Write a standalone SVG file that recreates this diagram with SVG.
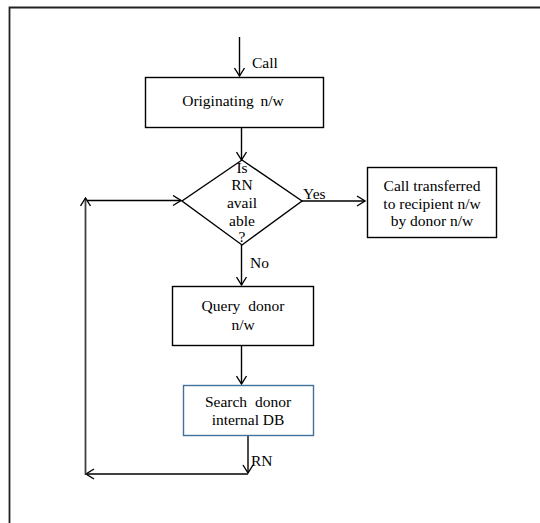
<svg xmlns="http://www.w3.org/2000/svg" width="540" height="523" viewBox="0 0 540 523">
  <defs>
    <marker id="arr" viewBox="-10 -6 12 12" markerWidth="12" markerHeight="12" refX="0" refY="0" orient="auto" markerUnits="userSpaceOnUse">
      <path d="M-8,-5 L0,0 L-8,5" fill="none" stroke="#000" stroke-width="1.4"/>
    </marker>
  </defs>
  <style>
    .box { fill: #fff; stroke: #000; stroke-width: 1.4; }
    .blue { fill: #fff; stroke: #41719C; stroke-width: 1.4; }
    .ln { fill: none; stroke: #000; stroke-width: 1.4; }
    .loop { fill: none; stroke: #404040; stroke-width: 1.8; }
    text { font-family: "Liberation Serif", "Times New Roman", serif; font-size: 15.5px; fill: #000; }
    .c { text-anchor: middle; }
  </style>
  <rect width="540" height="523" fill="#fff"/>
  <path d="M9.5,523 L9.5,7.5 L540,7.5" fill="none" stroke="#222" stroke-width="1.8"/>

  <g id="connectors">
    <path class="ln" d="M239.5,37 L239.5,76" marker-end="url(#arr)"/>
    <path class="ln" d="M241.5,127 L241.5,160" marker-end="url(#arr)"/>
    <path class="ln" d="M302,201 L365,201" marker-end="url(#arr)"/>
    <path class="ln" d="M241.5,245 L241.5,285" marker-end="url(#arr)"/>
    <path class="ln" d="M241.5,345 L241.5,384" marker-end="url(#arr)"/>
    <path class="ln" d="M248,435 L248,473" marker-end="url(#arr)"/>
    <path class="loop" d="M248,474 L86,474" marker-end="url(#arr)"/>
    <path class="loop" d="M85.5,475 L85.5,198" marker-end="url(#arr)"/>
    <path class="ln" d="M87,200.5 L181,200.5" marker-end="url(#arr)"/>
    <text x="252" y="68">Call</text>
    <text x="303" y="199">Yes</text>
    <text x="250" y="268">No</text>
    <text x="251" y="466">RN</text>
  </g>

  <g id="originating">
    <rect class="box" x="145.5" y="77.5" width="178" height="50"/>
    <text class="c" x="233" y="106" word-spacing="3">Originating n/w</text>
  </g>

  <g id="decision">
    <path class="box" d="M242,160 L302,201 L242,245 L182,201 Z"/>
    <text class="c" x="242" y="173">Is</text>
    <text class="c" x="242" y="190">RN</text>
    <text class="c" x="242" y="208">avail</text>
    <text class="c" x="242" y="226">able</text>
    <text class="c" x="242" y="242">?</text>
  </g>

  <g id="transferred">
    <rect class="box" x="367.5" y="167.5" width="129" height="70"/>
    <text class="c" x="432" y="191">Call transferred</text>
    <text class="c" x="432" y="209">to recipient  n/w</text>
    <text class="c" x="432" y="226">by  donor n/w</text>
  </g>

  <g id="query">
    <rect class="box" x="172.5" y="286.5" width="141" height="59"/>
    <text class="c" x="243" y="311" word-spacing="4">Query donor</text>
    <text class="c" x="243" y="330">n/w</text>
  </g>

  <g id="search">
    <rect class="blue" x="183.5" y="385.5" width="130" height="50"/>
    <text class="c" x="248" y="407" word-spacing="4">Search donor</text>
    <text class="c" x="248" y="425">internal DB</text>
  </g>
</svg>
